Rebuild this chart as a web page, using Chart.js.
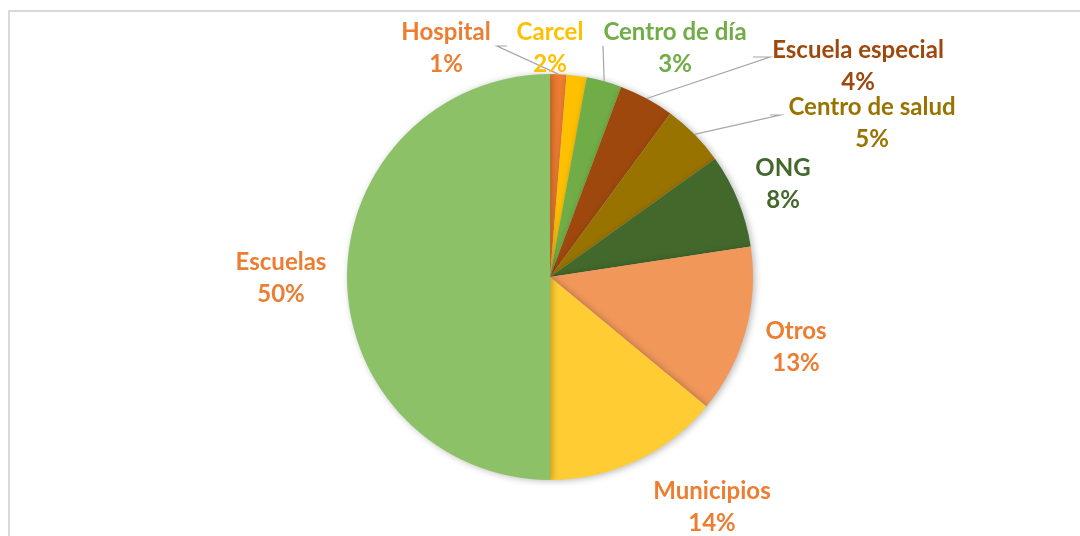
<!DOCTYPE html>
<html><head><meta charset="utf-8">
<script src="https://cdn.jsdelivr.net/npm/chart.js@4/dist/chart.umd.min.js"></script>
<style>
html,body{margin:0;padding:0;background:#fff;overflow:hidden;}
#frame{position:absolute;left:8px;top:10px;width:1200px;height:700px;border:2px solid #d9d9d9;box-sizing:border-box;}
#wrap{position:absolute;left:0;top:0;width:1080px;height:536px;}
</style></head>
<body>
<div id="frame"></div>
<div id="wrap"><canvas id="c" width="1080" height="536"></canvas></div>
<script>
const categories = ["Hospital","Carcel","Centro de día","Escuela especial","Centro de salud","ONG","Otros","Municipios","Escuelas"];
const values = [1.3, 1.6, 2.8, 4.4, 5.0, 7.5, 13.4, 14.0, 50.0];
const sliceColors = ["#ED7D31","#FFC000","#70AD47","#9E480E","#997300","#43682B","#F1975A","#FFCD33","#8CC168"];
const labelColors = ["#ED7D31","#FFC000","#70AD47","#9E480E","#997300","#43682B","#ED7D31","#ED7D31","#ED7D31"];
// label layout: offsets of label centre from pie centre, and leader line elbow (null = no line)
const labelOffsets = [[-104,-245],[0,-245],[125,-245],[308,-227],[322,-170],[233,-109],[246,54],[162,214],[-269,-15]];
const leaderElbows = [[[-53,-231],[-43,-231]], null, [[53,-231]], [[220,-220],[203,-220]], [[230,-162],[220,-162]], null, null, null, null];

const total = values.reduce((a,b)=>a+b,0);

const labelPlugin = {
  id:'labels',
  beforeDatasetsDraw(chart){
    const ctx=chart.ctx; ctx.save();
    ctx.shadowColor='rgba(0,0,0,0.28)'; ctx.shadowBlur=7; ctx.shadowOffsetX=2; ctx.shadowOffsetY=1;
  },
  afterDatasetsDraw(chart){
    const ctx=chart.ctx; ctx.restore();
    const meta=chart.getDatasetMeta(0);
    ctx.save();
    meta.data.forEach((arc,i)=>{
      const p=arc.getProps(['x','y','startAngle','endAngle','outerRadius'],true);
      const cx=p.x, cy=p.y;
      const mid=(p.startAngle+p.endAngle)/2;
      const ax=cx+Math.cos(mid)*p.outerRadius, ay=cy+Math.sin(mid)*p.outerRadius;
      const el=leaderElbows[i];
      if(el){
        ctx.strokeStyle='#A6A6A6'; ctx.lineWidth=1.2;
        ctx.beginPath();
        ctx.moveTo(ax,ay);
        el.forEach(pt=>ctx.lineTo(cx+pt[0],cy+pt[1]));
        ctx.stroke();
      }
    });
    meta.data.forEach((arc,i)=>{
      const p=arc.getProps(['x','y'],true);
      const lx=p.x+labelOffsets[i][0], ly=p.y+labelOffsets[i][1];
      ctx.fillStyle=labelColors[i];
      ctx.font='bold 24px Lato, "Open Sans", sans-serif';
      ctx.textAlign='center'; ctx.textBaseline='middle';
      ctx.fillText(categories[i],lx,ly);
      ctx.fillText(Math.round(values[i]/total*100)+'%',lx,ly+32);
    });
    ctx.restore();
  }
};

new Chart(document.getElementById('c'),{
  type:'pie',
  data:{labels:categories,datasets:[{data:values,backgroundColor:sliceColors,borderWidth:0}]},
  options:{
    responsive:false,animation:false,
    layout:{padding:{left:20,right:0,top:74,bottom:56}},
    plugins:{legend:{display:false},tooltip:{enabled:false}}
  },
  plugins:[labelPlugin]
});
</script>
</body></html>
